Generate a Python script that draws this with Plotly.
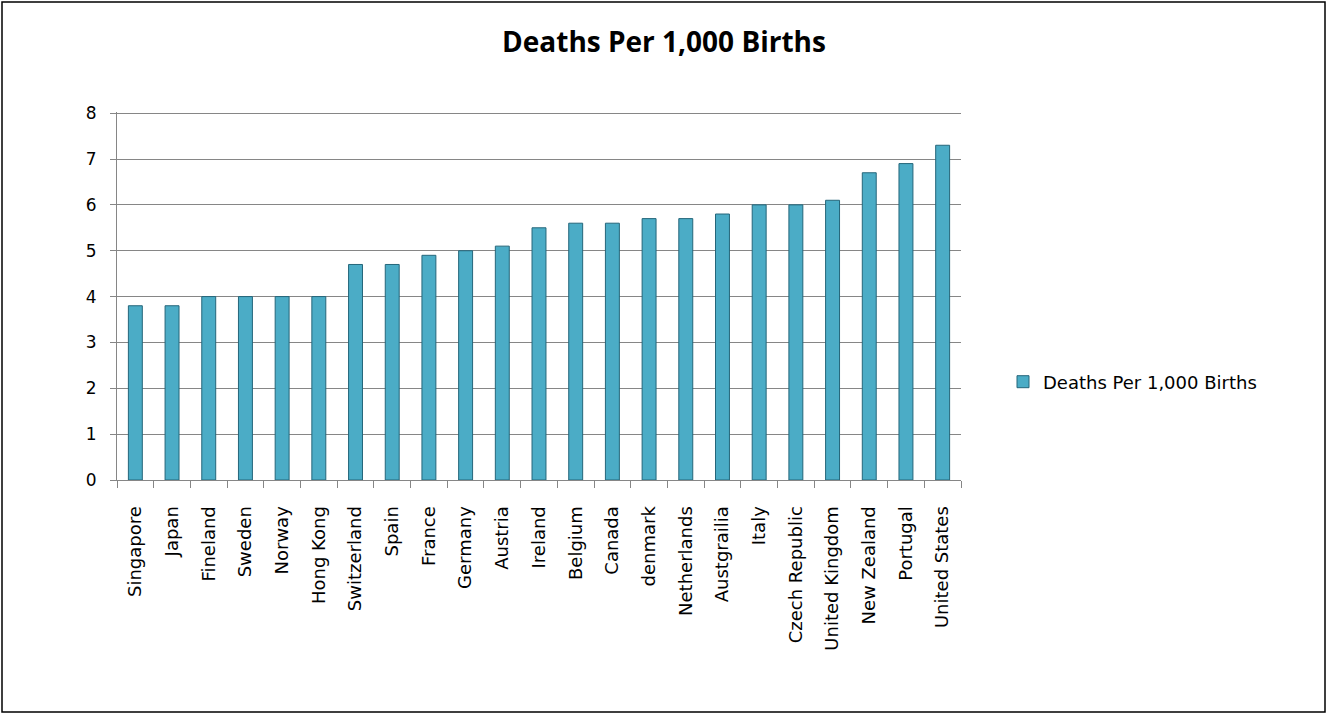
import plotly.graph_objects as go

countries = ["Singapore", "Japan", "Fineland", "Sweden", "Norway", "Hong Kong",
             "Switzerland", "Spain", "France", "Germany", "Austria", "Ireland",
             "Belgium", "Canada", "denmark", "Netherlands", "Austgrailia", "Italy",
             "Czech Republic", "United Kingdom", "New Zealand", "Portugal", "United States"]
deaths = [3.8, 3.8, 4.0, 4.0, 4.0, 4.0, 4.7, 4.7, 4.9, 5.0, 5.1, 5.5,
          5.6, 5.6, 5.7, 5.7, 5.8, 6.0, 6.0, 6.1, 6.7, 6.9, 7.3]
y_ticks = [0, 1, 2, 3, 4, 5, 6, 7, 8]
series_name = "Deaths Per 1,000 Births"

W, H = 1328, 715
ml, mr, mt, mb = 117, 367, 112, 235
pw, ph = W - ml - mr, H - mt - mb
tick_font = "DejaVu Sans, Open Sans, sans-serif"

fig = go.Figure()
fig.add_trace(go.Bar(
    x=countries, y=deaths, name=series_name, showlegend=True,
    marker=dict(color="#4BACC6", line=dict(color="#25667A", width=1)),
    width=0.38,
))

fig.update_layout(
    width=W, height=H,
    margin=dict(l=ml, r=mr, t=mt, b=mb),
    paper_bgcolor="white", plot_bgcolor="white",
    font=dict(family=tick_font, color="#000"),
    title=dict(text="<b>Deaths Per 1,000 Births</b>", x=0.5, xref="container",
               y=1 - 42 / H, yanchor="middle", yref="container",
               font=dict(size=28, family="Open Sans, sans-serif", color="#000")),
    legend=dict(x=1003 / W, xref="container", y=1 - 382 / H, yref="container",
                yanchor="middle", xanchor="left",
                font=dict(size=18, family=tick_font),
                bgcolor="rgba(0,0,0,0)"),
)
fig.update_xaxes(
    type="category", tickangle=-90, tickfont=dict(size=18, family=tick_font),
    ticks="outside", tickson="boundaries", ticklen=7, tickcolor="#868686",
    ticklabelstandoff=18,
    showline=True, linecolor="#868686", linewidth=1, showgrid=False,
)
fig.update_yaxes(
    range=[0, 8.025], tickvals=y_ticks, tickfont=dict(size=17, family=tick_font),
    ticks="outside", ticklen=6, tickcolor="#868686", ticklabelstandoff=10,
    showline=True, linecolor="#868686", linewidth=1,
    showgrid=True, gridcolor="#868686", gridwidth=1, zeroline=False,
)

# outer frame around the whole chart image
fig.add_shape(type="rect", xref="paper", yref="paper",
              x0=(2 - ml) / pw, x1=(W - 3 - ml) / pw,
              y0=-(H - 3 - mt - ph) / ph, y1=1 + (mt - 2) / ph,
              line=dict(color="#000", width=1.5), fillcolor="rgba(0,0,0,0)",
              layer="below")

fig.write_html("out.html")
